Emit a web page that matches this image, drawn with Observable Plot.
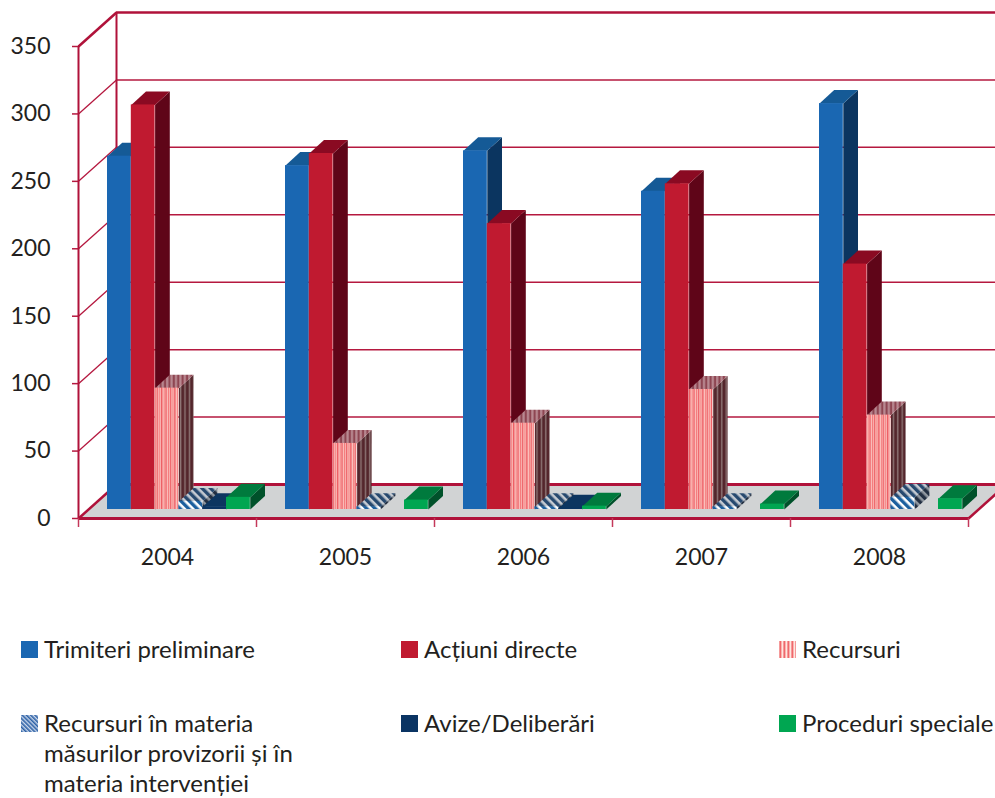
<!DOCTYPE html>
<html lang="ro">
<head>
<meta charset="utf-8">
<script src="https://cdn.jsdelivr.net/npm/d3@7"></script>
<script src="https://cdn.jsdelivr.net/npm/@observablehq/plot@0.6"></script>
<style>
  html, body { margin: 0; padding: 0; background: #fff; }
  body { width: 995px; height: 798px; overflow: hidden; font-family: Lato, sans-serif; color: #231f20; }
  #chart svg { display: block; }
  #legend { position: relative; height: 198px; font-size: 24px; line-height: 30px; }
  .item { position: absolute; }
  .swatch { position: absolute; left: 0; top: 7px; width: 17px; height: 17px; }
  .label { position: absolute; left: 23px; top: 0; white-space: nowrap; }
</style>
</head>
<body>
<div id="chart"></div>
<div id="legend"></div>
<script>
const years = ["2004", "2005", "2006", "2007", "2008"];
const trimiteri = [262, 255, 266, 236, 301];
const actiuni = [300, 264, 212, 241.5, 182];
const recursuri = [90, 49, 64, 89, 70];
const masuri = [6, 2, 2, 2, 9];
const avize = [2, 0, 1, 0, 0];
const proceduri = [9, 7, 2.5, 4, 8];
const yTicks = [0, 50, 100, 150, 200, 250, 300, 350];

const seriesNames = [
  "Trimiteri preliminare", "Acțiuni directe", "Recursuri",
  "Recursuri în materia\nmăsurilor provizorii și în\nmateria intervenției",
  "Avize/Deliberări", "Proceduri speciale"
];
const seriesValues = [trimiteri, actiuni, recursuri, masuri, avize, proceduri];
const faces = [
  {front: "#1a67b2", top: "#155a96", side: "#0b3560"},
  {front: "#c01a30", top: "#8a0a22", side: "#5f0518"},
  {front: "url(#recF)", top: "url(#recT)", side: "url(#recS)"},
  {front: "url(#hatF)", top: "url(#hatT)", side: "url(#hatS)"},
  {front: "#0a3463", top: "#0c3560", side: "#082a50"},
  {front: "#00a651", top: "#007a3d", side: "#00512a"}
];

// Chart geometry expressed in scale units: x = category units, y = value units
const wallDx = 38 / 178, wallDy = 34 / 1.3486;
const barDx = 14.7 / 178, barDy = 13.5 / 1.3486;
const barStart = 29 / 178, barWidth = 23.8 / 178, barBase = 9 / 1.3486;
const red = "#b0123a", grid = "#b5183f";

const marks = [];
// walls
marks.push(Plot.ruleY(yTicks.slice(1, -1), {y: d => d + wallDy, x1: wallDx, x2: 6, stroke: grid, strokeWidth: 1.5}));
marks.push(Plot.link(yTicks.slice(1, -1), {x1: 0, y1: d => d, x2: wallDx, y2: d => d + wallDy, stroke: grid, strokeWidth: 1.3}));
// floor
marks.push(Plot.line([[0, 0], [5, 0], [5 + wallDx, wallDy], [wallDx, wallDy]], {x: "0", y: "1", fill: "#d1d3d4", stroke: "none", curve: "linear-closed"}));
marks.push(Plot.ruleY([wallDy], {y: d => d, x1: wallDx, x2: 6, stroke: red, strokeWidth: 3}));
marks.push(Plot.ruleY([350 + wallDy], {y: d => d, x1: wallDx, x2: 6, stroke: red, strokeWidth: 2.5}));
marks.push(Plot.ruleX([wallDx], {x: d => d, y1: wallDy, y2: 350 + wallDy, stroke: red, strokeWidth: 2}));
marks.push(Plot.ruleX([0], {x: d => d, y1: 0, y2: 350, stroke: red, strokeWidth: 2}));
marks.push(Plot.link([0], {x1: 0, y1: 350, x2: wallDx, y2: 350 + wallDy, stroke: red, strokeWidth: 2.5}));
marks.push(Plot.link([0], {x1: 0, y1: 0, x2: wallDx, y2: wallDy, stroke: red, strokeWidth: 2.5}));
marks.push(Plot.link([0], {x1: 5, y1: 0, x2: 5 + wallDx, y2: wallDy, stroke: red, strokeWidth: 2.5}));
marks.push(Plot.ruleY([0], {y: d => d, x1: 0, x2: 5, stroke: red, strokeWidth: 3}));

// bars: drawn series by series, each with side, top, front
seriesValues.forEach((values, s) => {
  const bars = values.map((v, g) => ({v, x0: g + barStart + s * barWidth, x1: g + barStart + (s + 1) * barWidth,
    y0: barBase, y1: barBase + v, id: g})).filter(d => d.v > 0);
  const side = bars.flatMap(b => [[b.x1, b.y0], [b.x1 + barDx, b.y0 + barDy], [b.x1 + barDx, b.y1 + barDy], [b.x1, b.y1]].map(p => ({id: b.id, x: p[0], y: p[1]})));
  const top = bars.flatMap(b => [[b.x0, b.y1], [b.x1, b.y1], [b.x1 + barDx, b.y1 + barDy], [b.x0 + barDx, b.y1 + barDy]].map(p => ({id: b.id, x: p[0], y: p[1]})));
  marks.push(Plot.line(side, {x: "x", y: "y", z: "id", fill: faces[s].side, stroke: "none", curve: "linear-closed"}));
  marks.push(Plot.line(top, {x: "x", y: "y", z: "id", fill: faces[s].top, stroke: "none", curve: "linear-closed"}));
  marks.push(Plot.rect(bars, {x1: "x0", x2: "x1", y1: "y0", y2: "y1", fill: faces[s].front}));
});

// axes
marks.push(Plot.axisY(yTicks, {anchor: "left", tickSize: 6, tickPadding: 22, stroke: grid, fill: "#231f20", fontSize: 23, label: null, strokeWidth: 1.5, fontFamily: "Lato, sans-serif"}));
marks.push(Plot.axisX([0, 1, 2, 3, 4, 5], {anchor: "bottom", tickSize: 9, stroke: "#c4385a", strokeWidth: 1.5, tickFormat: () => "", label: null}));
marks.push(Plot.axisX(years.map((d, i) => i + 0.5), {anchor: "bottom", tickSize: 0, tickPadding: 30, tickFormat: d => years[d - 0.5], fill: "#231f20", fontSize: 23, label: null, fontFamily: "Lato, sans-serif"}));

const chart = Plot.plot({
  width: 995, height: 600,
  marginLeft: 78, marginRight: 27, marginTop: 46, marginBottom: 82,
  x: {type: "linear", domain: [0, 5]},
  y: {type: "linear", domain: [0, 350]},
  style: {background: "#fff"},
  marks
});

const defs = `<defs>
<pattern id="recF" width="4.4" height="4" patternUnits="userSpaceOnUse"><rect width="4.4" height="4" fill="#ffe6e0"/><rect x="0.6" width="1.5" height="4" fill="#f47c7c"/><rect x="2.6" width="1.5" height="4" fill="#ee5f64"/></pattern>
<pattern id="recT" width="4.4" height="4" patternUnits="userSpaceOnUse"><rect width="4.4" height="4" fill="#b98a92"/><rect x="0.6" width="2.2" height="4" fill="#8e4652"/></pattern>
<pattern id="recS" width="4.4" height="4" patternUnits="userSpaceOnUse"><rect width="4.4" height="4" fill="#8f7777"/><rect x="0.4" width="3" height="4" fill="#54262c"/></pattern>
<pattern id="hatF" width="6" height="6" patternUnits="userSpaceOnUse" patternTransform="rotate(-45)"><rect width="6" height="6" fill="#fff"/><rect width="3.4" height="6" fill="#1c5f9e"/></pattern>
<pattern id="hatT" width="6" height="6" patternUnits="userSpaceOnUse" patternTransform="rotate(-45)"><rect width="6" height="6" fill="#c6cbd2"/><rect width="3.4" height="6" fill="#27496f"/></pattern>
<pattern id="hatS" width="6" height="6" patternUnits="userSpaceOnUse" patternTransform="rotate(-45)"><rect width="6" height="6" fill="#90979f"/><rect width="3.4" height="6" fill="#222f42"/></pattern>
<pattern id="hatL" width="3" height="3" patternUnits="userSpaceOnUse" patternTransform="rotate(-45)"><rect width="3" height="3" fill="#c9d6ea"/><rect width="1.6" height="3" fill="#2e62a6"/></pattern>
<pattern id="recL" width="4" height="4" patternUnits="userSpaceOnUse"><rect width="4" height="4" fill="#ffe6e0"/><rect x="0.4" width="2" height="4" fill="#f0696c"/></pattern>
</defs>`;
chart.insertAdjacentHTML("afterbegin", defs);
document.getElementById("chart").appendChild(chart);

// legend (HTML below the SVG)
const legendFills = ["#1a67b2", "#c01a30", "url(#recL)", "url(#hatL)", "#0a3463", "#00a651"];
const legendLeft = [21, 401, 779, 21, 401, 779];
const legendTop = [34, 34, 34, 108, 108, 108];
const legend = document.getElementById("legend");
seriesNames.forEach((name, i) => {
  const item = document.createElement("div");
  item.className = "item";
  item.style.left = legendLeft[i] + "px";
  item.style.top = legendTop[i] + "px";
  const sw = document.createElementNS("http://www.w3.org/2000/svg", "svg");
  sw.setAttribute("class", "swatch");
  sw.setAttribute("width", 17); sw.setAttribute("height", 17);
  sw.innerHTML = `<rect width="17" height="17" fill="${legendFills[i]}"/>`;
  item.appendChild(sw);
  const lab = document.createElement("div");
  lab.className = "label";
  lab.innerHTML = name.replace(/\n/g, "<br>");
  item.appendChild(lab);
  legend.appendChild(item);
});
</script>
</body>
</html>
